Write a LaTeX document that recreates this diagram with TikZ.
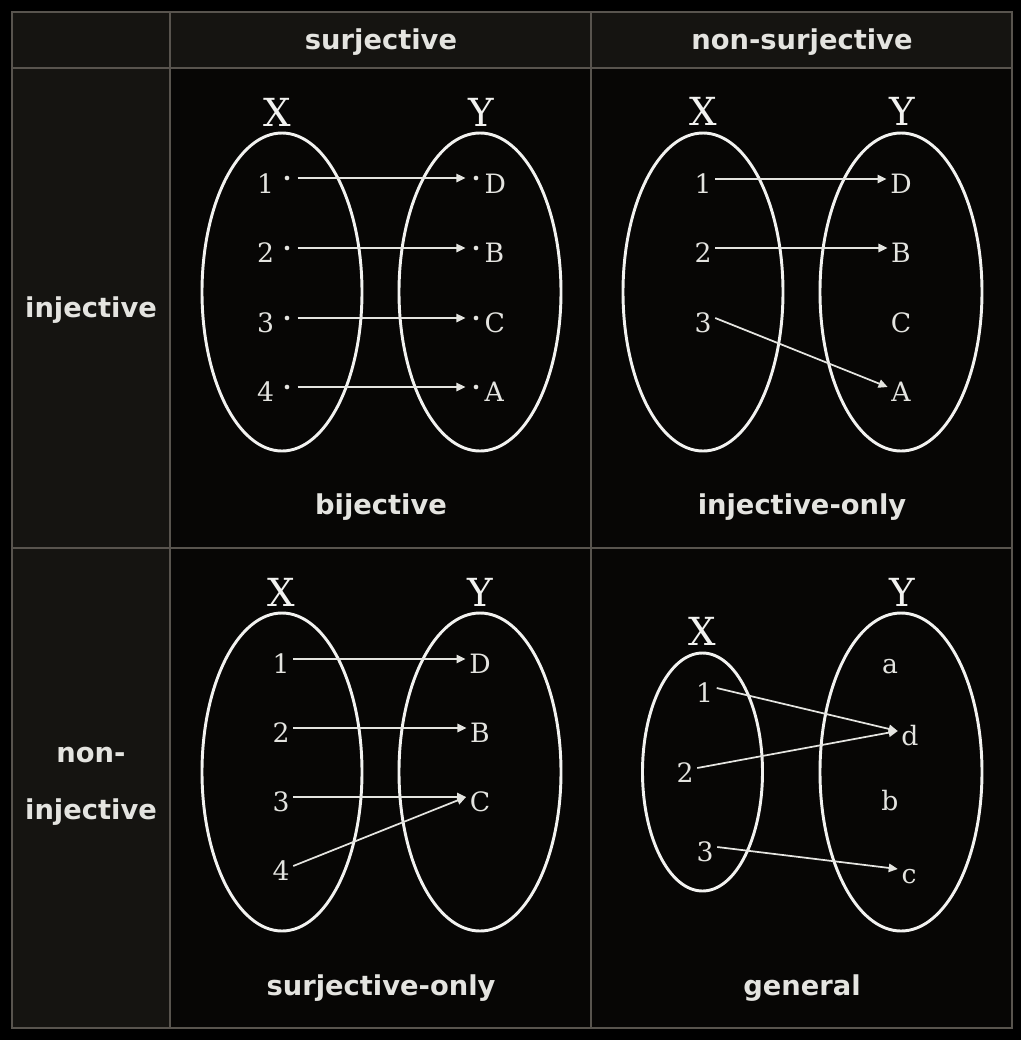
\documentclass[tikz,border=0pt]{standalone}
\usepackage{fontspec}
\setmainfont{DejaVu Serif}
\newfontfamily\headfont{DejaVu Sans}
\usetikzlibrary{arrows.meta}

\definecolor{gridline}{RGB}{88,84,78}
\definecolor{headfill}{RGB}{21,20,17}
\definecolor{cellfill}{RGB}{7,6,5}
\definecolor{inkwhite}{RGB}{242,242,240}
\definecolor{inkgray}{RGB}{228,228,224}

\begin{document}
\begin{tikzpicture}[x=0.75pt,y=0.75pt,yscale=-1,xscale=1,
  head/.style={font=\headfont\bfseries\fontsize{20.5}{24}\selectfont, text=inkgray, anchor=base, inner sep=0pt},
  setname/.style={font=\fontsize{29}{32}\selectfont, text=inkwhite, inner sep=0pt},
  elem/.style={font=\fontsize{20}{23}\selectfont, text=inkgray, inner sep=2.6pt, text height=21pt, text depth=0pt},
  pip/.style={circle, fill=inkgray, inner sep=0pt, minimum size=3.5pt},
  setring/.style={draw=inkwhite, line width=2.2pt},
  maps/.style={draw=inkgray, line width=1.3pt, -{Triangle[length=6.8pt,width=6.3pt]}},
]
%set diagram size 1021 x 1040
\fill[black] (0,0) rectangle (1021,1040);
\useasboundingbox (0,0) rectangle (1021,1040);

%Shape: Cells
\fill[headfill] (12,12) rectangle (1012,68);
\fill[headfill] (12,68) rectangle (170,1028);
\fill[cellfill] (170,68) rectangle (1012,1028);

%Straight Lines: grid
\draw[gridline, line width=1.5pt] (12,12) rectangle (1012,1028);
\draw[gridline, line width=1.5pt] (170,12) -- (170,1028);
\draw[gridline, line width=1.5pt] (591,12) -- (591,1028);
\draw[gridline, line width=1.5pt] (12,68) -- (1012,68);
\draw[gridline, line width=1.5pt] (12,548) -- (1012,548);

% Text Node: headers
\node[head] (hsur) at (381,49) {surjective};
\node[head] (hnon) at (802,49) {non-surjective};
\node[head] (hinj) at (91,317) {injective};
\node[head] (hnon1) at (91,762) {non-};
\node[head] (hnon2) at (91,819) {injective};

% Text Node: captions
\node[head] (cbij) at (381,514) {bijective};
\node[head] (cinj) at (802,514) {injective-only};
\node[head] (csur) at (381,995) {surjective-only};
\node[head] (cgen) at (802,995) {general};

%%%%% bijective
%Shape: Ellipse
\draw[setring] (282,292) ellipse [x radius=80, y radius=159];
\draw[setring] (480,292) ellipse [x radius=81, y radius=159];
% Text Node
\node[setname] (bjX) at (277,112) {X};
\node[setname] (bjY) at (481,112) {Y};
\node[elem] (bj1) at (265.5,179) {1};
\node[elem] (bj2) at (265.5,248) {2};
\node[elem] (bj3) at (265.5,318) {3};
\node[elem] (bj4) at (265.5,387) {4};
\node[elem, anchor=west] (bjD) at (481,179) {D};
\node[elem, anchor=west] (bjB) at (481,248) {B};
\node[elem, anchor=west] (bjC) at (481,318) {C};
\node[elem, anchor=west] (bjA) at (481,387) {A};
%Shape: Circle
\node[pip] (bj1p) at (287,178) {};
\node[pip] (bj2p) at (287,248) {};
\node[pip] (bj3p) at (287,318) {};
\node[pip] (bj4p) at (287,387) {};
\node[pip] (bjDp) at (476,178) {};
\node[pip] (bjBp) at (476,248) {};
\node[pip] (bjCp) at (476,318) {};
\node[pip] (bjAp) at (476,387) {};
%Straight Lines
\draw[maps, shorten <=6pt, shorten >=6pt] (bj1p) -- (bjDp);
\draw[maps, shorten <=6pt, shorten >=6pt] (bj2p) -- (bjBp);
\draw[maps, shorten <=6pt, shorten >=6pt] (bj3p) -- (bjCp);
\draw[maps, shorten <=6pt, shorten >=6pt] (bj4p) -- (bjAp);

%%%%% injective-only
%Shape: Ellipse
\draw[setring] (703,292) ellipse [x radius=80, y radius=159];
\draw[setring] (901,292) ellipse [x radius=81, y radius=159];
% Text Node
\node[setname] (ioX) at (703,111.5) {X};
\node[setname] (ioY) at (902,111.5) {Y};
\node[elem] (io1) at (703,179) {1};
\node[elem] (io2) at (703,248) {2};
\node[elem] (io3) at (703,318) {3};
\node[elem] (ioD) at (901,179) {D};
\node[elem] (ioB) at (901,248) {B};
\node[elem] (ioC) at (901,318) {C};
\node[elem] (ioA) at (901,387) {A};
%Straight Lines
\draw[maps] (io1.east) -- (ioD.west);
\draw[maps] (io2.east) -- (ioB.west);
\draw[maps] (io3.east) -- (ioA.west);

%%%%% surjective-only
%Shape: Ellipse
\draw[setring] (282,772) ellipse [x radius=80, y radius=159];
\draw[setring] (480,772) ellipse [x radius=81, y radius=159];
% Text Node
\node[setname] (soX) at (281,592) {X};
\node[setname] (soY) at (480,592) {Y};
\node[elem] (so1) at (281,659) {1};
\node[elem] (so2) at (281,728) {2};
\node[elem] (so3) at (281,797) {3};
\node[elem] (so4) at (281,866) {4};
\node[elem] (soD) at (480,659) {D};
\node[elem] (soB) at (480,728) {B};
\node[elem] (soC) at (480,797) {C};
%Straight Lines
\draw[maps] (so1.east) -- (soD.west);
\draw[maps] (so2.east) -- (soB.west);
\draw[maps] (so3.east) -- (soC.west);
\draw[maps] (so4.east) -- (soC.west);

%%%%% general
%Shape: Ellipse
\draw[setring] (702.5,772) ellipse [x radius=60, y radius=119];
\draw[setring] (901,772) ellipse [x radius=81, y radius=159];
% Text Node
\node[setname] (geX) at (702.5,631) {X};
\node[setname] (geY) at (902,592) {Y};
\node[elem] (ge1) at (704.5,688) {1};
\node[elem] (ge2) at (685,768) {2};
\node[elem] (ge3) at (705,847) {3};
\node[elem] (gea) at (890,659) {a};
\node[elem] (ged) at (910,731) {d};
\node[elem] (geb) at (890,796) {b};
\node[elem] (gec) at (909,869) {c};
%Straight Lines
\draw[maps] (ge1.east) -- (ged.west);
\draw[maps] (ge2.east) -- (ged.west);
\draw[maps] (ge3.east) -- (gec.west);

\end{tikzpicture}
\end{document}
